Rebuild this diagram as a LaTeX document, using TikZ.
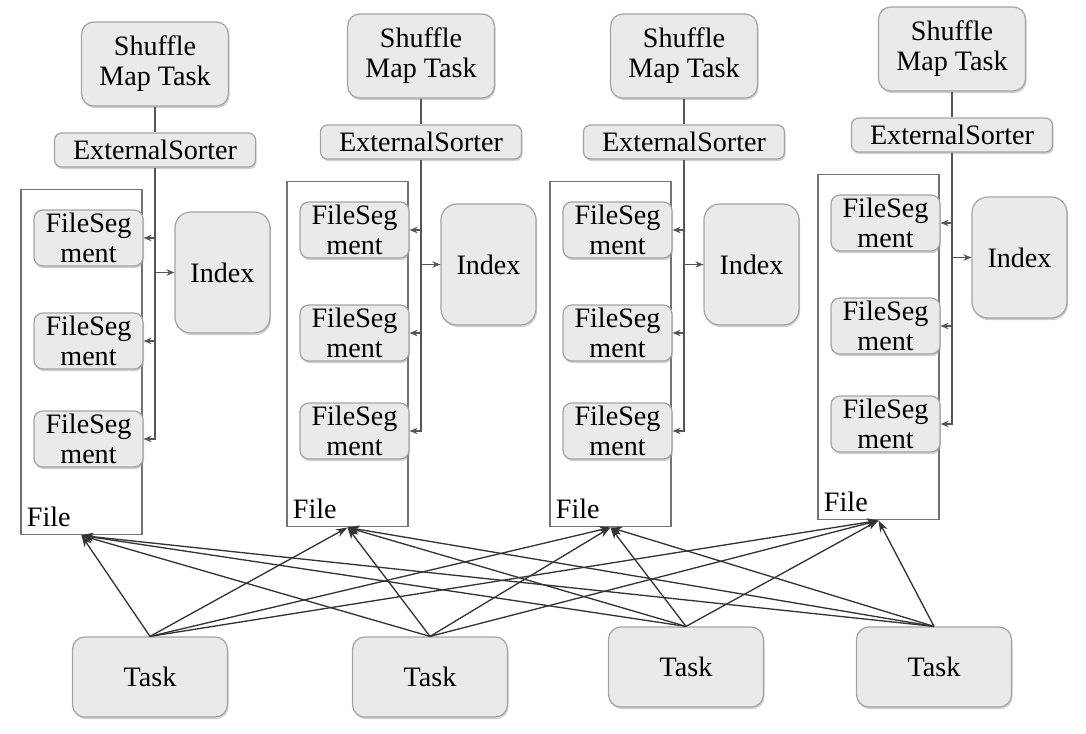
\documentclass[tikz,border=0pt]{standalone}
\usepackage{fontspec}
\setmainfont{Liberation Serif}
\usepackage{tikz}
\usetikzlibrary{positioning, arrows.meta, shadows}
\definecolor{boxfill}{HTML}{EAEAEA}
\definecolor{boxline}{HTML}{A4A4A4}
\definecolor{linkgray}{HTML}{555555}
\tikzset{
  grayboxes/.style={draw=boxline, fill=boxfill, line width=0.7pt, inner sep=0pt, align=center,
    drop shadow={shadow xshift=0.6pt, shadow yshift=-1.2pt, fill=black!40, opacity=0.45}},
  mapbox/.style={grayboxes, rounded corners=7pt, minimum width=2.94cm, minimum height=1.68cm},
  sorterbox/.style={grayboxes, rounded corners=4pt, minimum width=4.02cm, minimum height=0.68cm},
  segbox/.style={grayboxes, rounded corners=5pt, minimum width=2.18cm, minimum height=1.12cm},
  indexbox/.style={grayboxes, rounded corners=9pt, minimum width=1.9cm, minimum height=2.42cm},
  taskbox/.style={grayboxes, rounded corners=7pt, minimum width=3.1cm, minimum height=1.6cm},
  filebox/.style={draw=black!55, line width=0.6pt, minimum width=2.42cm, minimum height=6.92cm, inner sep=0pt},
  sortlink/.style={draw=linkgray, line width=0.8pt},
  seglink/.style={sortlink, -{Stealth[length=1.6mm,width=1.3mm]}},
  tasklink/.style={draw=black!80, line width=0.75pt, -{Stealth[length=2.3mm,width=1.6mm]}},
}

\begin{document}
\begin{tikzpicture}[x=0.02cm, y=-0.02cm, font=\fontsize{16}{17}\selectfont]
        \useasboundingbox (0,0) rectangle (1086,734);
        % one column per shuffle map task
        \foreach \i/\cx/\cy in {1/155/22, 2/421/14, 3/684/14, 4/952/7}{
          \node[mapbox] (map\i) at (\cx,\cy+42) {Shuffle\\Map Task};
          \node[sorterbox] (sorter\i) at (\cx,\cy+128) {ExternalSorter};
          \node[filebox] (file\i) at (\cx-73.5,\cy+340) {};
          \node[anchor=south west, inner sep=0pt] (filelabel\i) at ([xshift=3.5pt,yshift=5pt]file\i.south west) {File};
          \node[indexbox] (index\i) at (\cx+67.5,\cy+250.5) {Index};
          \foreach \j/\dy in {1/216,2/319,3/417}
          \node[segbox] (seg\i\j) at (\cx-66.5,\cy+\dy) {FileSeg\\ment};
          % sorter line and its arrows
          \draw[sortlink] (map\i) -- (sorter\i);
          \draw[seglink] (sorter\i.south) |- (seg\i3.east);
          \draw[seglink] (sorter\i.south |- seg\i1.east) -- (seg\i1.east);
          \draw[seglink] (sorter\i.south |- seg\i2.east) -- (seg\i2.east);
          \draw[seglink] (sorter\i.south |- index\i.west) -- (index\i.west);
        }
        % reduce tasks
        \foreach \i/\tx/\ty in {1/150/677, 2/430/677, 3/686/667, 4/934/667}
        \node[taskbox] (task\i) at (\tx,\ty) {Task};
        % every task reads every file
        \foreach \i in {1,...,4}
        \foreach \j in {1,...,4}
        \draw[tasklink] (task\i.north) -- (file\j.south);
    \end{tikzpicture}
\end{document}
